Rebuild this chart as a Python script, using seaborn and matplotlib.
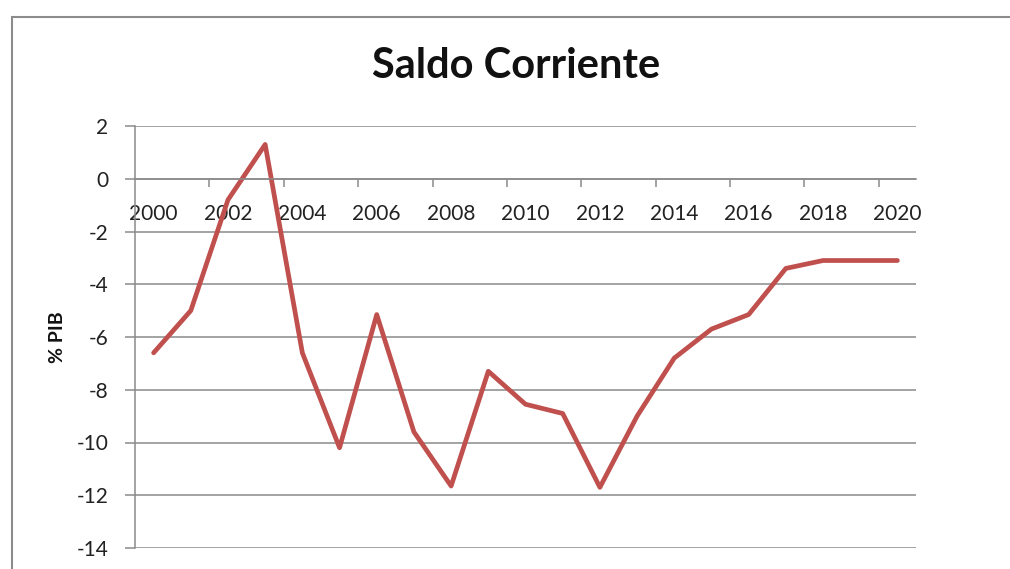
import matplotlib
matplotlib.use("Agg")
import numpy as np
import pandas as pd
import matplotlib.pyplot as plt
from matplotlib.patches import Rectangle
import seaborn as sns

# Saldo corriente (% PIB), 2000-2020
years = list(range(2000, 2021))
saldo = [-6.6, -5.0, -0.8, 1.3, -6.6, -10.2, -5.15, -9.6, -11.65, -7.3, -8.55,
         -8.9, -11.7, -9.0, -6.8, -5.7, -5.15, -3.4, -3.1, -3.1, -3.1]
year_labels = [str(y) for y in years[::2]]

sns.set_theme(style="white")
plt.rcParams['font.family'] = ['Lato', 'DejaVu Sans']
plt.rcParams['axes.unicode_minus'] = False

grid_col = "#8a8a8a"
line_col = "#c0504d"

fig = plt.figure(figsize=(10.1, 5.69), dpi=100)
ax = fig.add_axes([135 / 1010, 1 - 548 / 569, 781 / 1010, 422 / 569])

data = pd.DataFrame({"year": years, "saldo": saldo})
sns.lineplot(data=data, x="year", y="saldo", ax=ax, color=line_col, linewidth=3.4)

ax.set_xlim(1999.5, 2020.5)
ax.set_ylim(-14, 2)
ax.set_yticks(np.arange(-14, 3, 2))
ax.yaxis.grid(True, color=grid_col, linewidth=1.1)
ax.set_axisbelow(True)

# category axis crossing at zero, ticks between every other category
for side in ["top", "right"]:
    ax.spines[side].set_visible(False)
ax.spines["bottom"].set_position(("data", 0))
ax.spines["bottom"].set_color(grid_col)
ax.spines["left"].set_color(grid_col)
ax.spines["bottom"].set_linewidth(1.1)
ax.spines["left"].set_linewidth(1.1)

ax.set_xticks(years[::2])
ax.set_xticklabels(year_labels)
ax.set_xticks(np.arange(2001.5, 2020, 2), minor=True)
ax.tick_params(axis="x", which="major", length=0, pad=18, labelsize=15, colors="#222222")
ax.tick_params(axis="x", which="minor", bottom=True, length=6, width=1.1, color=grid_col, direction="out")
ax.tick_params(axis="y", left=True, length=7, width=1.1, color=grid_col, pad=12,
               labelsize=15, labelcolor="#222222")

ax.set_xlabel("")
ax.set_ylabel("% PIB", fontsize=14, fontweight="bold", labelpad=8, color="#111111")
fig.text(516 / 1010, 1 - 66 / 569, "Saldo Corriente", ha="center", va="center",
         fontsize=30, fontweight="bold", color="#111111")

# chart area border (cropped on right and bottom)
fig.patches.append(Rectangle((12 / 1010, -0.1), 1.2, 1.1 - 17 / 569, transform=fig.transFigure,
                             fill=False, edgecolor="#8c8c8c", linewidth=1.5))

fig.savefig("out.png", dpi=100, facecolor="white")
